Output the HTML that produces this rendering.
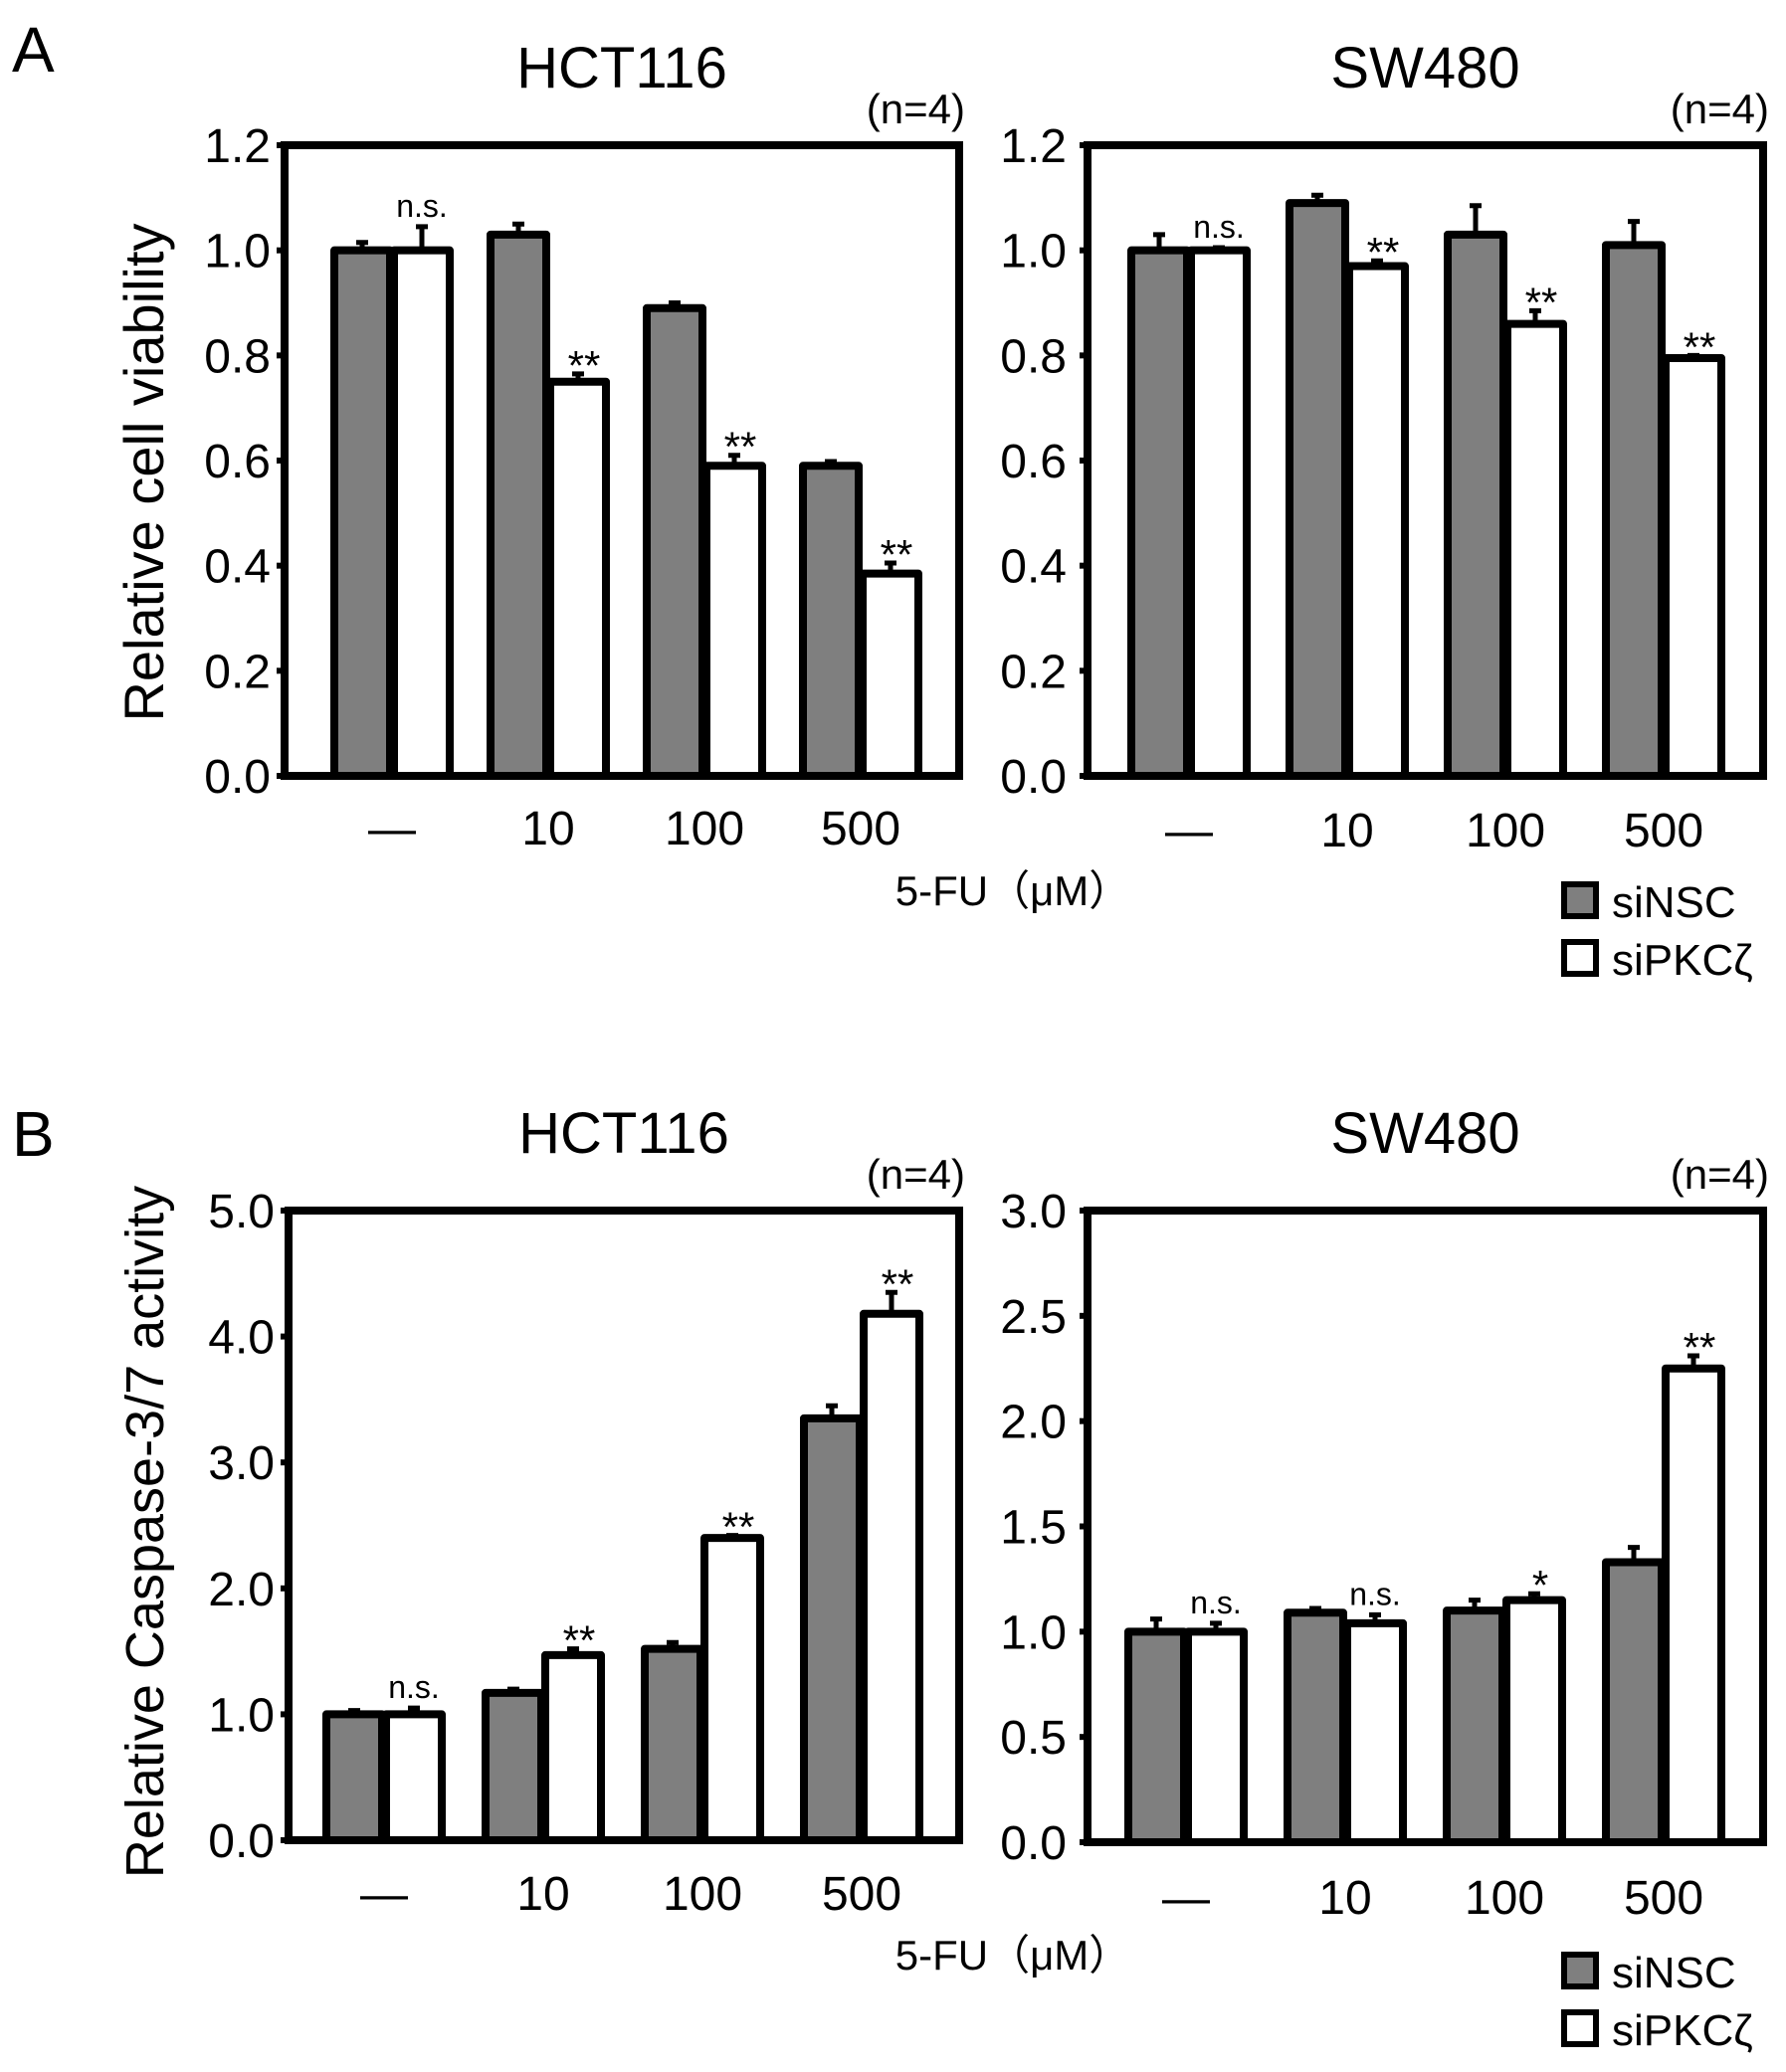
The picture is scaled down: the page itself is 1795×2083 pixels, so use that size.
<!DOCTYPE html>
<html><head><meta charset="utf-8"><style>
html,body{margin:0;padding:0;background:#fff}
svg{display:block}
text{font-family:"Liberation Sans","Noto Sans CJK JP",sans-serif;fill:#000}
</style></head><body>
<svg id="fig" width="1795" height="2083" viewBox="0 0 1795 2083" xmlns="http://www.w3.org/2000/svg">
<text x="12" y="72" font-size="64">A</text>
<text x="12" y="1162" font-size="64">B</text>
</svg>
<script>
const categories = ["—","10","100","500"];
const aHctNsc = [1.0,1.03,0.89,0.59];
const aHctNscErr = [0.015,0.02,0.01,0.008];
const aHctPkc = [1.0,0.75,0.59,0.385];
const aHctPkcErr = [0.045,0.015,0.02,0.02];
const aHctSig = ["n.s.","**","**","**"];
const aSwNsc = [1.0,1.09,1.03,1.01];
const aSwNscErr = [0.03,0.015,0.055,0.045];
const aSwPkc = [1.0,0.97,0.86,0.795];
const aSwPkcErr = [0.005,0.01,0.025,0.005];
const aSwSig = ["n.s.","**","**","**"];
const aTicks = ["0.0","0.2","0.4","0.6","0.8","1.0","1.2"];
const bHctNsc = [1.0,1.17,1.52,3.35];
const bHctNscErr = [0.03,0.03,0.05,0.1];
const bHctPkc = [1.0,1.47,2.4,4.18];
const bHctPkcErr = [0.05,0.05,0.02,0.17];
const bHctSig = ["n.s.","**","**","**"];
const bHctTicks = ["0.0","1.0","2.0","3.0","4.0","5.0"];
const bSwNsc = [1.0,1.09,1.1,1.33];
const bSwNscErr = [0.06,0.02,0.05,0.07];
const bSwPkc = [1.0,1.04,1.15,2.25];
const bSwPkcErr = [0.04,0.04,0.03,0.06];
const bSwSig = ["n.s.","n.s.","*","**"];
const bSwTicks = ["0.0","0.5","1.0","1.5","2.0","2.5","3.0"];

const NS="http://www.w3.org/2000/svg";
const svg=document.getElementById('fig');
function mk(tag,attrs,parent){const e=document.createElementNS(NS,tag);for(const k in attrs)e.setAttribute(k,attrs[k]);(parent||svg).appendChild(e);return e;}
function txt(s,attrs,parent){const e=mk('text',attrs,parent);e.textContent=s;return e;}

function panel(o){
  const g=mk('g',{});
  
  
  const yMax=parseFloat(o.ticks[o.ticks.length-1]);
  const yS=v=>o.bottom-(v/yMax)*(o.bottom-o.top);
  const xC=i=>o.left+o.firstC+i*o.step;
  const bw=56;
  o.ticks.forEach(t=>{
    const y=yS(parseFloat(t));
    const l=mk('line',{x1:o.left-8,x2:o.left,y1:y,y2:y,stroke:'#000','stroke-width':6},g);
    
    
    const tl=txt(t,{x:o.tickX,y:y+17,'font-size':48,'text-anchor':'end'},g);
    
    
  });
  const drawBar=(x,v,e,fill,nm)=>{
    const y=yS(v);
    const eb=mk('path',{d:`M${x+bw/2},${y} V${yS(v+e)} M${x+bw/2-6},${yS(v+e)} H${x+bw/2+6}`,stroke:'#000','stroke-width':5,fill:'none'},g);
    
    
    const r=mk('rect',{x:x,y:y,width:bw,height:o.bottom-y,fill:fill,stroke:'#000','stroke-width':8,'stroke-linejoin':'round'},g);
    
    
  };
  categories.forEach((c,i)=>{
    const cx=xC(i);
    drawBar(cx-bw-2,o.nsc[i],o.nscErr[i],'#7f7f7f','bar-sinsc-'+i);
    drawBar(cx+2,o.pkc[i],o.pkcErr[i],'#fff','bar-sipkc-'+i);
    const sy=yS(o.pkc[i]+o.pkcErr[i])-10;
    const isNs=o.sig[i]==='n.s.';
    const s=txt(o.sig[i],{x:cx+2+bw/2+(isNs?0:6),y:isNs?sy:sy+16,'font-size':isNs?32:42,'text-anchor':'middle'},g);
    
    
    const cl=txt(c,{x:cx,y:o.catY,'font-size':48,'text-anchor':'middle'},g);
    
    
  });
  const ax=mk('path',{d:`M${o.left},${o.bottom} V${o.top} H${o.right} V${o.bottom} Z`,fill:'none',stroke:'#000','stroke-width':8},g);
  
  
  const t=txt(o.title,{x:(o.left+o.right)/2,y:o.top-58,'font-size':58,'text-anchor':'middle'},g);
  
  
  const n=txt('(n=4)',{x:o.right+6,y:o.top-22,'font-size':42,'text-anchor':'end'},g);
  
  
}

panel({name:'chart-a-hct116',title:'HCT116',left:286,right:964,top:146,bottom:780,firstC:108,step:157,tickX:272,catY:849,ticks:aTicks,nsc:aHctNsc,nscErr:aHctNscErr,pkc:aHctPkc,pkcErr:aHctPkcErr,sig:aHctSig});
panel({name:'chart-a-sw480',title:'SW480',left:1093,right:1772,top:146,bottom:780,firstC:102,step:159,tickX:1072,catY:851,ticks:aTicks,nsc:aSwNsc,nscErr:aSwNscErr,pkc:aSwPkc,pkcErr:aSwPkcErr,sig:aSwSig});
panel({name:'chart-b-hct116',title:'HCT116',left:290,right:964,top:1217,bottom:1850,firstC:96,step:160,tickX:276,catY:1920,ticks:bHctTicks,nsc:bHctNsc,nscErr:bHctNscErr,pkc:bHctPkc,pkcErr:bHctPkcErr,sig:bHctSig});
panel({name:'chart-b-sw480',title:'SW480',left:1093,right:1772,top:1217,bottom:1852,firstC:99,step:160,tickX:1072,catY:1924,ticks:bSwTicks,nsc:bSwNsc,nscErr:bSwNscErr,pkc:bSwPkc,pkcErr:bSwPkcErr,sig:bSwSig});

function extras(yt,ylab,fs,axY,legY){
  const a=txt(ylab,{x:0,y:0,'font-size':fs,'text-anchor':'middle',transform:`translate(164,${yt}) rotate(-90)`});
  
  
  const x=txt('5-FU（μM）',{x:1018,y:axY,'font-size':42,'text-anchor':'middle'});
  
  
  const r1=mk('rect',{x:1572,y:legY,width:32,height:32,fill:'#7f7f7f',stroke:'#000','stroke-width':6});
  
  
  const t1=txt('siNSC',{x:1620,y:legY+33,'font-size':44});
  
  
  const r2=mk('rect',{x:1572,y:legY+58,width:32,height:32,fill:'#fff',stroke:'#000','stroke-width':6});
  
  
  const t2=txt('siPKCζ',{x:1620,y:legY+91,'font-size':44});
  
  
}
extras(475,'Relative cell viability',56,910,889);
extras(1540,'Relative Caspase-3/7 activity',54,1980,1965);
</script>
</body></html>
